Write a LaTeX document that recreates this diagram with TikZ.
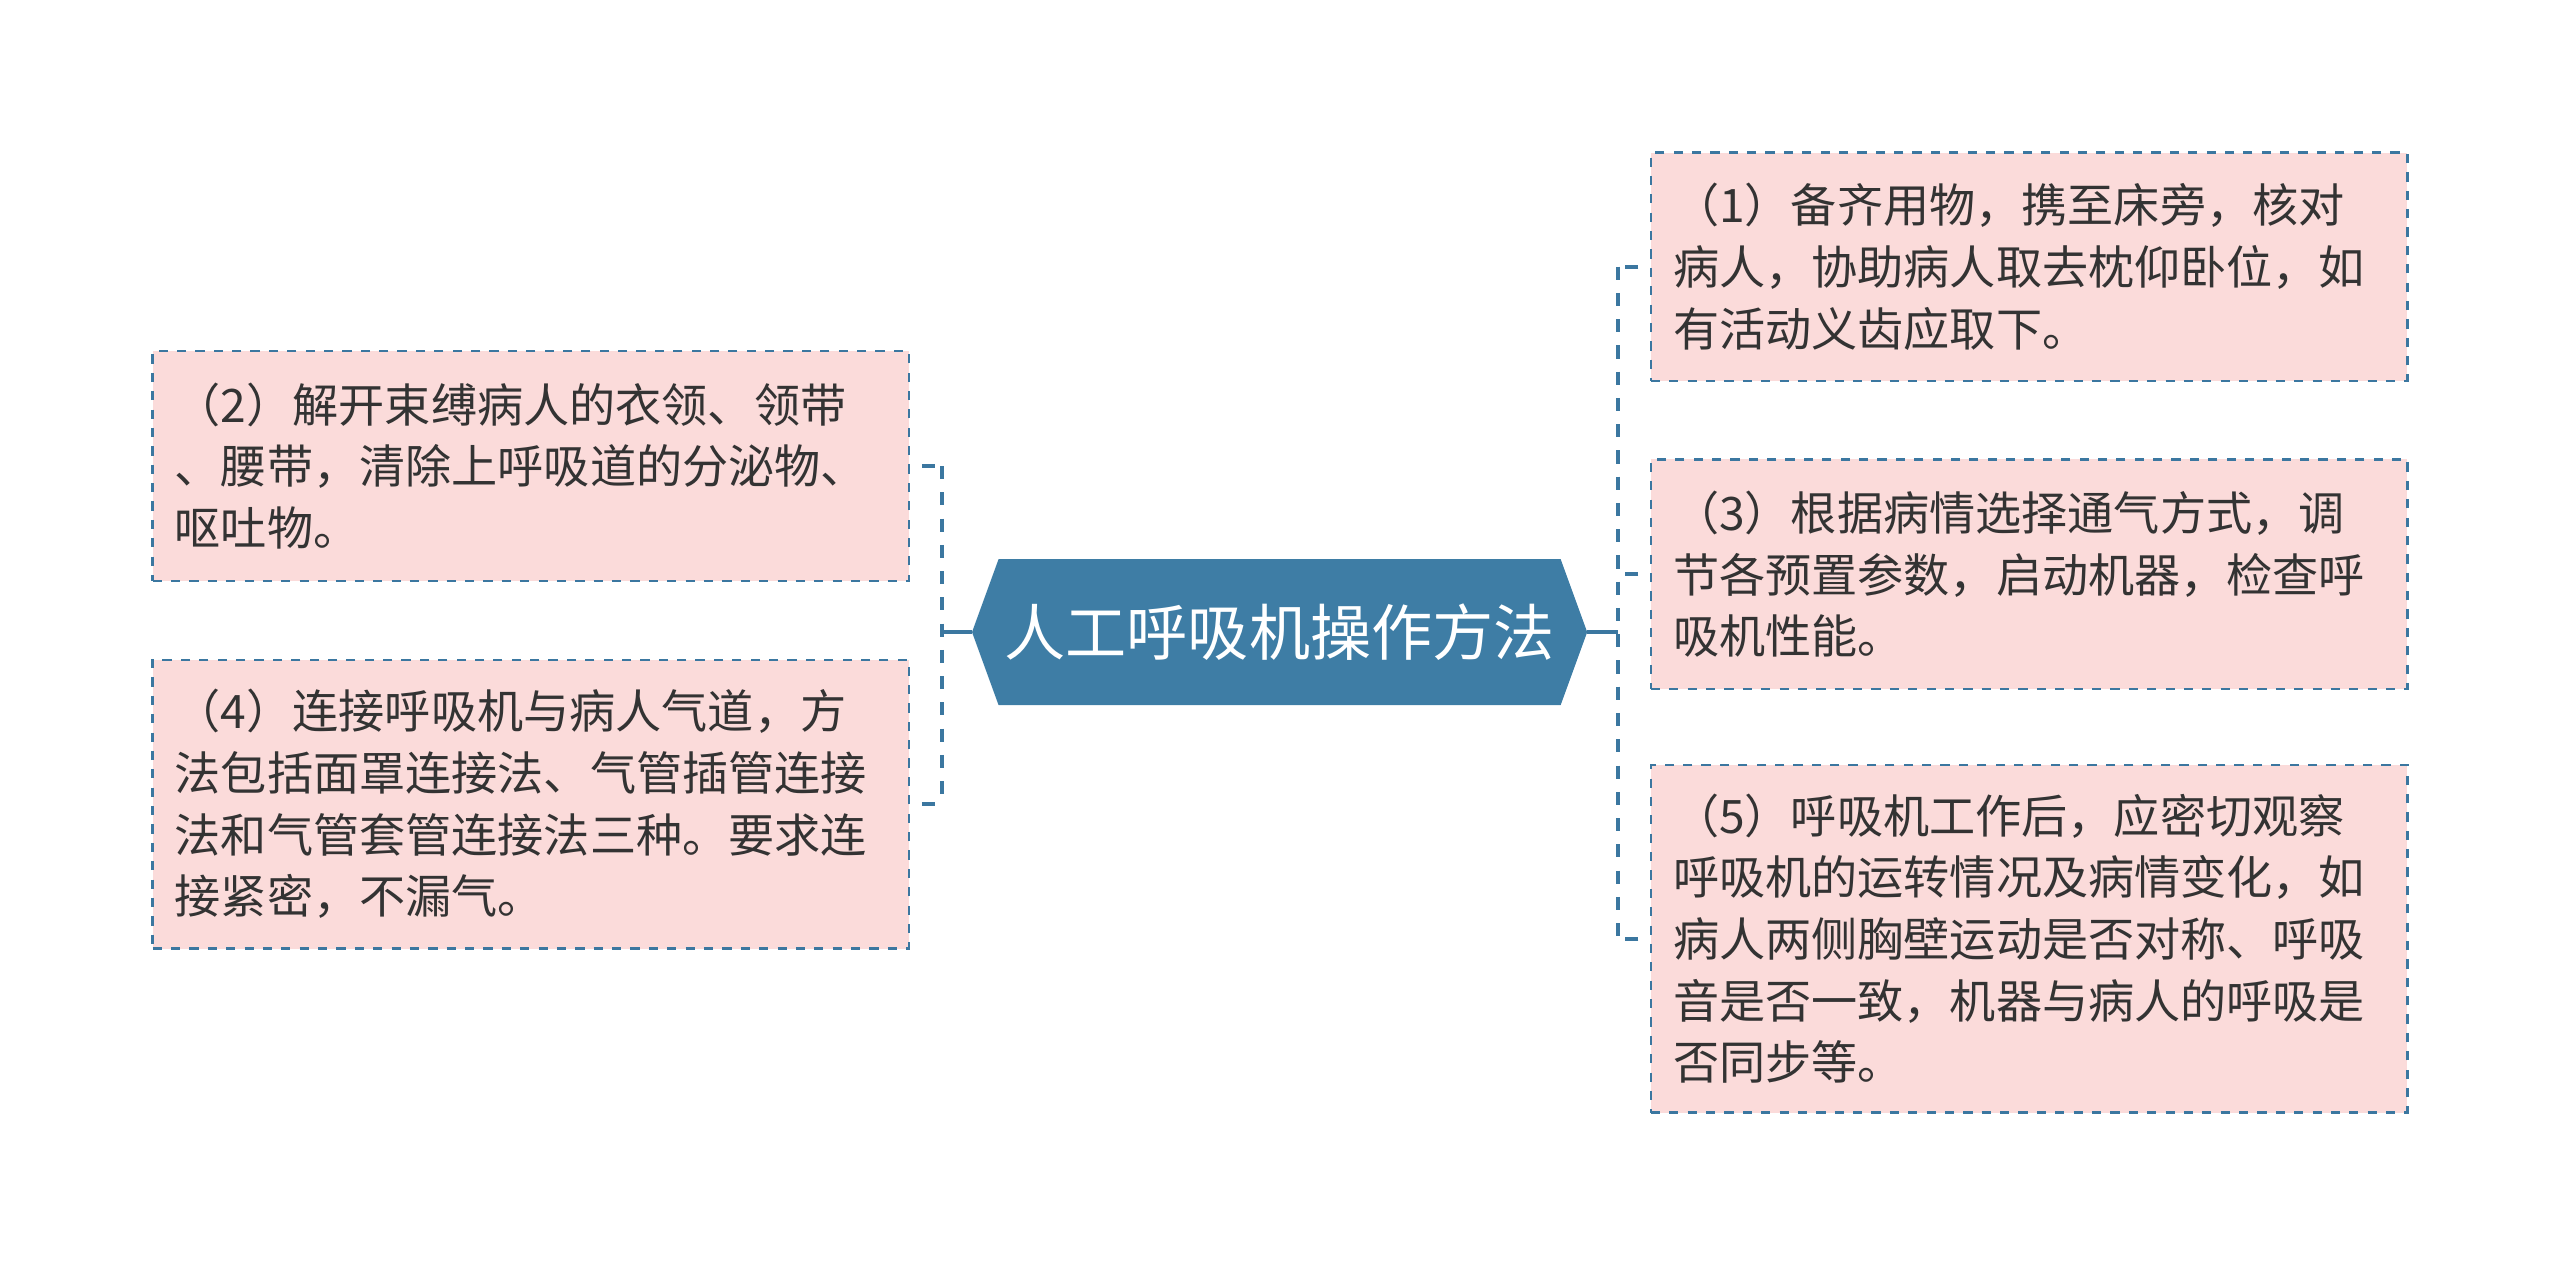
\documentclass[tikz,border=0pt]{standalone}
\usepackage{fontspec}
\newfontfamily\cjk{Noto Sans CJK SC}
\usetikzlibrary{backgrounds}
\definecolor{nodeblue}{HTML}{3E7DA5}
\definecolor{linkblue}{HTML}{3B77A0}
\definecolor{boxpink}{HTML}{FBDBDA}
\definecolor{txtgray}{HTML}{333333}

\begin{document}
\begin{tikzpicture}[x=0.05cm,y=-0.05cm]

\tikzstyle{hexa} = [rectangle, text=white, minimum width=17.11cm, minimum height=4.44cm, inner sep=0pt, font=\cjk\fontsize{53pt}{64pt}\selectfont]
\tikzstyle{box} = [rectangle, draw=linkblue, line width=2pt, dash pattern=on 0.28cm off 0.28cm, fill=boxpink, text=txtgray, minimum width=23.05cm, text width=21.7cm, align=left, inner xsep=0.675cm, inner ysep=0pt, font=\cjk\fontsize{40pt}{53.5pt}\selectfont]
\tikzstyle{dashlink} = [draw=linkblue, line width=3.6pt, dash pattern=on 0.4cm off 0.4cm]
\tikzstyle{solidlink} = [draw=linkblue, line width=3.6pt]

\useasboundingbox (0,0) rectangle (1560,771);

\node (root) [hexa] at (779.75,385.2) {人工呼吸机操作方法};
\coordinate (rootl) at ([xshift=-0.81cm]root.west);
\coordinate (rootr) at ([xshift=0.81cm]root.east);
\begin{pgfonlayer}{background}
\fill [nodeblue] (root.north west) -- (root.north east) -- (rootr) -- (root.south east) -- (root.south west) -- (rootl) -- cycle;
\end{pgfonlayer}

\node (two) [box, minimum height=7cm] at (323.5,284) {（2）解开束缚病人的衣领、领带\\、腰带，清除上呼吸道的分泌物、\\呕吐物。};
\node (four) [box, minimum height=8.8cm] at (323.5,490) {（4）连接呼吸机与病人气道，方\\法包括面罩连接法、气管插管连接\\法和气管套管连接法三种。要求连\\接紧密，不漏气。};
\node (one) [box, minimum height=6.95cm] at (1236.5,162.5) {（1）备齐用物，携至床旁，核对\\病人，协助病人取去枕仰卧位，如\\有活动义齿应取下。};
\node (three) [box, minimum height=7cm] at (1236.5,350) {（3）根据病情选择通气方式，调\\节各预置参数，启动机器，检查呼\\吸机性能。};
\node (five) [box, minimum height=10.6cm] at (1236.5,572) {（5）呼吸机工作后，应密切观察\\呼吸机的运转情况及病情变化，如\\病人两侧胸壁运动是否对称、呼吸\\音是否一致，机器与病人的呼吸是\\否同步等。};

\coordinate (lbus) at (574,385.2);
\coordinate (rbus) at (986,385.2);

\draw [solidlink] (rootl) -- (lbus);
\draw [dashlink] (two.east -| lbus) -- (four.east -| lbus);
\draw [dashlink, shorten <=0.35cm] (two.east) -- (two.east -| lbus);
\draw [dashlink, shorten <=0.35cm] (four.east) -- (four.east -| lbus);
\draw [solidlink] (rootr) -- (rbus);
\draw [dashlink] (one.west -| rbus) -- (five.west -| rbus);
\draw [dashlink, shorten <=0.35cm] (one.west) -- (one.west -| rbus);
\draw [dashlink, shorten <=0.35cm] (three.west) -- (three.west -| rbus);
\draw [dashlink, shorten <=0.35cm] (five.west) -- (five.west -| rbus);
\end{tikzpicture}
\end{document}
